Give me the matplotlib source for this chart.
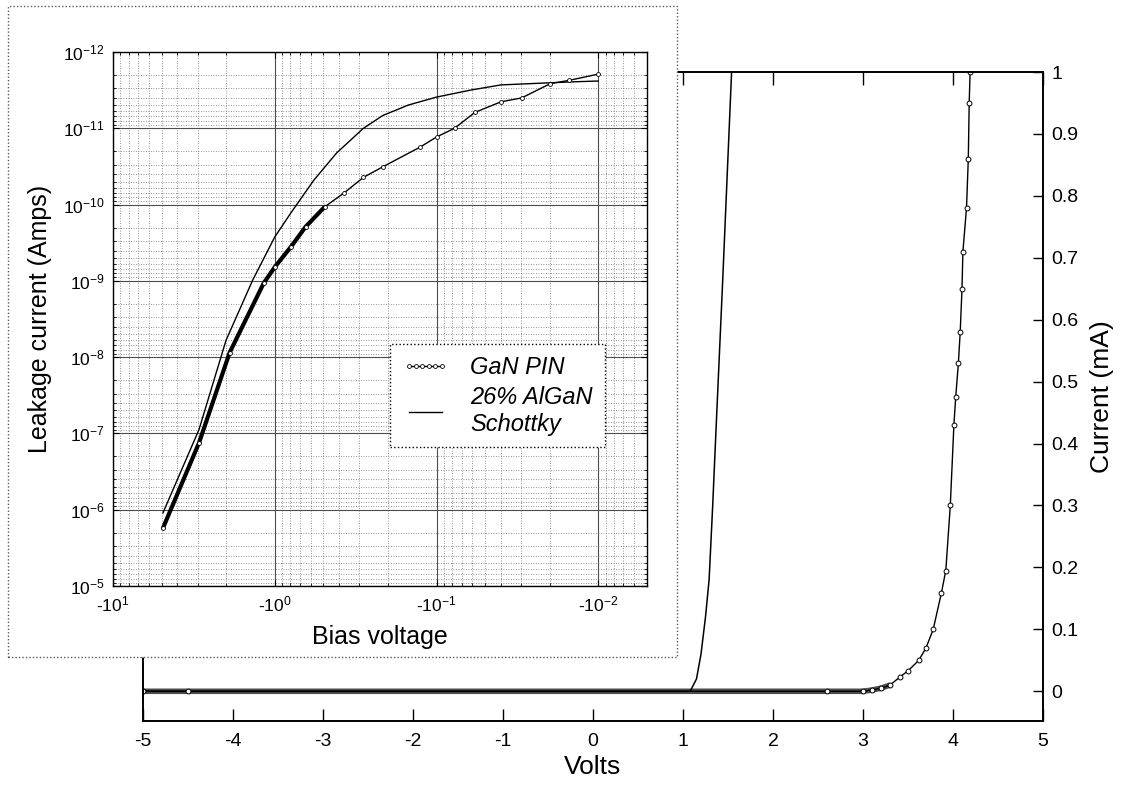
import matplotlib
matplotlib.use("Agg")
import numpy as np
import matplotlib.pyplot as plt
from matplotlib.patches import Rectangle
from matplotlib.ticker import FixedLocator, FuncFormatter, LogLocator, NullFormatter

plt.rcParams["font.family"] = ["Liberation Sans", "DejaVu Sans"]
plt.rcParams["mathtext.default"] = "regular"
plt.rcParams["axes.unicode_minus"] = False

# forward I-V sweep (Volts, mA)
pin_v = [-5.0, -4.5, 2.6, 3.0, 3.1, 3.2, 3.3, 3.41, 3.5, 3.62, 3.7, 3.78, 3.87, 3.92,
         3.97, 4.01, 4.03, 4.06, 4.08, 4.10, 4.11, 4.15, 4.17, 4.18, 4.19]
pin_i = [0.0, 0.0, 0.0, 0.0, 0.002, 0.005, 0.01, 0.023, 0.033, 0.05, 0.07, 0.10, 0.158, 0.195,
         0.30, 0.43, 0.475, 0.53, 0.58, 0.65, 0.71, 0.78, 0.86, 0.95, 1.0]
sch_v = [-5.0, 1.08, 1.15, 1.20, 1.25, 1.29, 1.33, 1.36, 1.40, 1.44, 1.49, 1.54]
sch_i = [0.0, 0.0, 0.02, 0.06, 0.12, 0.18, 0.30, 0.40, 0.53, 0.66, 0.83, 1.0]

# reverse leakage (|bias| in V, |current| in A)
leak_pin_v = [4.91, 2.94, 1.90, 1.17, 1.0, 0.796, 0.644, 0.491, 0.375, 0.283, 0.215,
              0.126, 0.1, 0.0774, 0.058, 0.040, 0.0298, 0.0198, 0.0151, 0.010]
leak_pin_i = [1.74e-6, 1.33e-7, 8.7e-9, 1.07e-9, 6.6e-10, 3.6e-10, 1.95e-10, 1.07e-10, 7.1e-11,
              4.4e-11, 3.2e-11, 1.76e-11, 1.30e-11, 1.0e-11, 6.2e-12, 4.5e-12, 4.0e-12,
              2.6e-12, 2.35e-12, 1.95e-12]
leak_sch_v = [4.91, 2.94, 2.0, 1.37, 1.0, 0.796, 0.574, 0.414, 0.283, 0.215, 0.149, 0.1,
              0.0617, 0.040, 0.0151, 0.010]
leak_sch_i = [1.1e-6, 8.9e-8, 6.0e-9, 9.8e-10, 2.66e-10, 1.29e-10, 4.8e-11, 2.1e-11, 1.0e-11,
              6.8e-12, 4.95e-12, 3.9e-12, 3.16e-12, 2.7e-12, 2.47e-12, 2.4e-12]

main_xticks = [-5, -4, -3, -2, -1, 0, 1, 2, 3, 4, 5]
main_yticks = [0, 0.1, 0.2, 0.3, 0.4, 0.5, 0.6, 0.7, 0.8, 0.9, 1.0]
inset_xticks = [10, 1, 0.1, 0.01]
inset_yticks = [1e-12, 1e-11, 1e-10, 1e-9, 1e-8, 1e-7, 1e-6, 1e-5]

W, H = 1128, 788
fig = plt.figure(figsize=(W / 100, H / 100), dpi=100)

# ---- main axes ----
ax = fig.add_axes([143 / W, 1 - 721 / H, 900 / W, 649 / H])
ax.set_zorder(0)
pv, pi = np.array(pin_v), np.array(pin_i)
flat = pi < 0.012
ax.plot(pv[flat], pi[flat], color="0.3", lw=4, solid_capstyle="butt")
ax.plot(sch_v, sch_i, color="black", lw=1.1)
ax.plot(pin_v, pin_i, color="black", lw=1, marker="o", ms=3.5, mfc="white",
        mec="black", mew=0.7)
ax.set_xlim(-5, 5)
ax.set_ylim(-0.048, 1.0)
ax.set_xticks(main_xticks)
ax.set_yticks(main_yticks)
ax.yaxis.set_major_formatter(FuncFormatter(lambda v, _: "%g" % v))
ax.yaxis.tick_right()
ax.yaxis.set_label_position("right")
ax.tick_params(axis="x", direction="in", length=9, width=1, top=True, labelsize=14, pad=9)
ax.tick_params(axis="y", direction="in", length=7, width=1, left=False, right=True,
               labelsize=14, pad=6)
for s in ax.spines.values():
    s.set_linewidth(1.4)
ax.set_xlabel("Volts", fontsize=19, labelpad=3)
ax.set_ylabel("Current (mA)", fontsize=19, labelpad=8)

# ---- inset panel ----
frame = Rectangle((8 / W, 1 - 657 / H), 669 / W, 651 / H, transform=fig.transFigure,
                  facecolor="white", edgecolor="0.35", lw=1, ls=(0, (1, 1.5)), zorder=1)
fig.add_artist(frame)

axin = fig.add_axes([113 / W, 1 - 586 / H, 534 / W, 534 / H])
axin.set_zorder(2)
axin.set_xscale("log")
axin.set_yscale("log")
lv, li = np.array(leak_pin_v), np.array(leak_pin_i)
thick = lv >= 0.45
axin.plot(lv[thick], li[thick], color="black", lw=3, solid_capstyle="round")
h2, = axin.plot(leak_sch_v, leak_sch_i, color="black", lw=1, label="26% AlGaN\nSchottky")
h1, = axin.plot(leak_pin_v, leak_pin_i, color="black", lw=1, marker="o", ms=2.8,
                mfc="white", mec="black", mew=0.6, label="GaN PIN")
axin.set_xlim(10, 0.005)
axin.set_ylim(1e-5, 1e-12)

axin.xaxis.set_major_locator(FixedLocator(inset_xticks))
axin.xaxis.set_minor_locator(LogLocator(base=10, subs=range(2, 10), numticks=20))
axin.xaxis.set_minor_formatter(NullFormatter())
axin.xaxis.set_major_formatter(
    FuncFormatter(lambda v, _: r"-$10^{%d}$" % int(round(np.log10(v)))))
axin.yaxis.set_major_locator(FixedLocator(inset_yticks))
axin.yaxis.set_major_formatter(
    FuncFormatter(lambda v, _: r"$10^{%d}$" % int(round(np.log10(v)))))
axin.yaxis.set_minor_locator(LogLocator(base=10, subs=range(2, 10), numticks=20))
axin.yaxis.set_minor_formatter(NullFormatter())

axin.grid(True, which="major", color="0.3", lw=0.8, ls="-")
axin.grid(True, which="minor", color="0.45", lw=0.6, ls=(0, (1, 2)))
axin.set_axisbelow(True)
axin.tick_params(which="both", direction="in", top=True, right=True, labelsize=12.5)
axin.tick_params(which="major", length=4, pad=6)
axin.tick_params(which="minor", length=2)
for s in axin.spines.values():
    s.set_linewidth(1)
axin.set_xlabel("Bias voltage", fontsize=18, labelpad=8)
axin.set_ylabel("Leakage current (Amps)", fontsize=18, labelpad=8)

leg = axin.legend(handles=[h1, h2], loc="upper left", bbox_to_anchor=(0.519, 0.453),
                  prop={"style": "italic", "size": 17}, frameon=True, fancybox=False,
                  edgecolor="black", framealpha=1, numpoints=6, handlelength=2.0,
                  borderpad=0.5, labelspacing=0.3, handletextpad=0.9, borderaxespad=0)
leg.get_frame().set_linestyle(":")
leg.get_frame().set_linewidth(1)

fig.savefig("out.png", dpi=100)
